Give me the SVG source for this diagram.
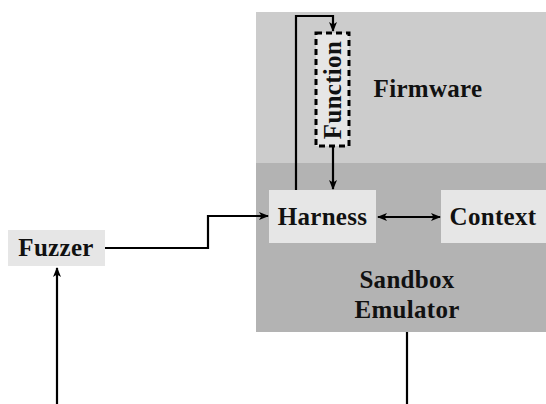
<svg xmlns="http://www.w3.org/2000/svg" width="546" height="404" viewBox="0 0 546 404">
<style>
.lbl{font-family:"Liberation Serif","Times New Roman",serif;font-weight:bold;font-size:25px;letter-spacing:0.3px;fill:#111;text-anchor:middle}
.box{fill:#e6e6e6}
.ln{fill:none;stroke:#000;stroke-width:2.2}
</style>
<defs>
<marker id="ah" viewBox="0 0 10 8" refX="9" refY="4" markerWidth="10" markerHeight="8" markerUnits="userSpaceOnUse" orient="auto-start-reverse">
<path d="M0,0 L10,4 L0,8 L2.5,4 Z" fill="#000"/>
</marker>
</defs>
<g id="firmware">
<rect x="256" y="12" width="290" height="152" fill="#cccccc"/>
<text class="lbl" x="428" y="97">Firmware</text>
</g>
<g id="sandbox">
<rect x="256" y="163" width="290" height="169" fill="#b3b3b3"/>
<text class="lbl" x="407" y="288">Sandbox</text>
<text class="lbl" x="407" y="318">Emulator</text>
</g>
<g id="function">
<rect x="316" y="33" width="33" height="113" fill="#e6e6e6" stroke="#000" stroke-width="3" stroke-dasharray="6,4"/>
<text class="lbl" transform="translate(341,90) rotate(-90)">Function</text>
</g>
<g id="harness">
<rect class="box" x="269" y="190" width="107" height="53"/>
<text class="lbl" x="322.5" y="225">Harness</text>
</g>
<g id="context">
<rect class="box" x="441" y="190" width="105" height="53"/>
<text class="lbl" x="493" y="225">Context</text>
</g>
<g id="fuzzer">
<rect class="box" x="8" y="230" width="97" height="36"/>
<text class="lbl" x="56" y="256">Fuzzer</text>
</g>
<g id="connectors">
<polyline class="ln" points="105,248 208,248 208,216 268,216" marker-end="url(#ah)"/>
<line class="ln" x1="378" y1="217" x2="440" y2="217" marker-start="url(#ah)" marker-end="url(#ah)"/>
<polyline class="ln" points="296,190 296,16 333,16 333,31" marker-end="url(#ah)"/>
<line class="ln" x1="333" y1="147" x2="333" y2="189" marker-end="url(#ah)"/>
<line class="ln" x1="57" y1="404" x2="57" y2="268" marker-end="url(#ah)"/>
<line class="ln" x1="407" y1="332" x2="407" y2="404"/>
</g>
</svg>
